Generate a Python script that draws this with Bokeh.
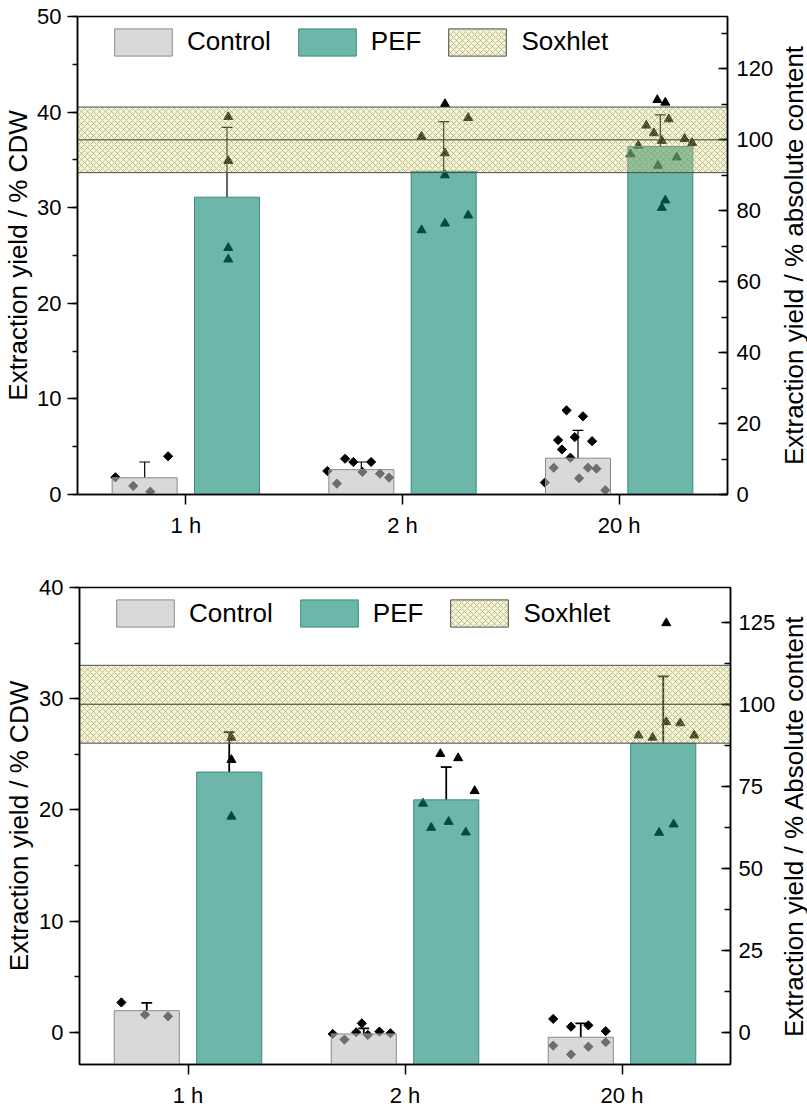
import math
from bokeh.plotting import figure
from bokeh.models import (Range1d, LinearAxis, SingleIntervalTicker, FixedTicker,
                          Legend, LegendItem, Span, Label)
from bokeh.layouts import column, row
from bokeh.embed import file_html
from bokeh.resources import INLINE

FONT = "Liberation Sans"

categories = ["1 h", "2 h", "20 h"]

# ---------------- Panel A (top) ----------------
ctrl_mean_a = [1.75, 2.6, 3.8]
ctrl_sd_a = [1.65, 0.8, 2.9]
pef_mean_a = [31.1, 33.8, 36.4]
pef_sd_a = [7.3, 5.2, 3.3]
soxhlet_mean_a = 37.1
soxhlet_sd_a = 3.43

ctrl_pts_a = [
    [1.8, 0.9, 0.3, 4.0],
    [2.46, 1.14, 3.74, 3.4, 2.36, 3.4, 2.18, 1.77],
    [8.8, 8.18, 5.69, 6.0, 5.58, 4.71, 3.85, 1.25, 2.8, 1.7, 2.8, 2.7, 0.45],
]
ctrl_jit_a = [
    [-0.135, -0.053, 0.026, 0.108],
    [-0.157, -0.113, -0.075, -0.037, 0.005, 0.045, 0.086, 0.128],
    [-0.053, 0.023, -0.092, -0.015, 0.065, -0.074, -0.035, -0.153, -0.112, 0.005, 0.046, 0.085, 0.126],
]
pef_pts_a = [
    [39.5, 34.9, 25.8, 24.6],
    [40.85, 39.4, 37.45, 35.7, 33.4, 29.2, 28.35, 27.65],
    [41.27, 41.0, 39.26, 38.6, 37.8, 37.0, 37.2, 36.77, 36.5, 35.6, 35.27, 34.4, 30.77, 30.0],
]
pef_jit_a = [
    [0.006, 0.006, 0.006, 0.006],
    [0.006, 0.113, -0.102, 0.006, 0.006, 0.113, 0.006, -0.102],
    [-0.014, 0.023, 0.039, -0.065, -0.03, 0.007, 0.112, 0.147, -0.102, -0.138, 0.076, -0.011, 0.023, 0.007],
]

# ---------------- Panel B (bottom) ----------------
ctrl_mean_b = [1.94, -0.15, -0.45]
ctrl_sd_b = [0.7, 0.5, 1.25]
pef_mean_b = [23.4, 20.9, 26.0]
pef_sd_b = [3.6, 2.95, 6.0]
soxhlet_mean_b = 29.5
soxhlet_sd_b = 3.5

ctrl_pts_b = [
    [2.68, 1.58, 1.43],
    [-0.15, -0.66, 0.0, 0.8, -0.24, 0.06, -0.09],
    [1.2, 0.5, 0.62, 0.1, -1.2, -1.99, -1.3, -0.89],
]
ctrl_jit_b = [
    [-0.117, -0.008, 0.098],
    [-0.143, -0.089, -0.035, -0.009, 0.019, 0.072, 0.123],
    [-0.127, -0.045, 0.035, 0.115, -0.127, -0.045, 0.035, 0.115],
]
pef_pts_b = [
    [26.5, 24.5, 19.4],
    [25.04, 24.66, 21.7, 20.57, 18.93, 18.4, 17.98],
    [36.8, 26.7, 26.5, 27.9, 27.8, 26.7, 17.95, 18.7],
]
pef_jit_b = [
    [0.01, 0.01, 0.01],
    [-0.027, 0.055, 0.131, -0.107, 0.011, -0.069, 0.09],
    [0.014, -0.114, -0.049, 0.014, 0.078, 0.143, -0.019, 0.048],
]

BAR_OFF = 0.19
BAR_W = 0.3
CAP = 0.025
MAIN_W = 779
TITLE_W = 28
TICK_FS = "22px"
TITLE_FS = "26px"


def build(ymin, ymax, sox_mean, sox_sd, c_mean, c_sd, p_mean, p_sd,
          c_pts, c_jit, p_pts, p_jit, r_interval, height,
          b_top, b_bottom, b_left, b_right, xlab_standoff, l_title_standoff,
          err_w, leg_x, leg_gap, r_standoff):
    factor = 100.0 / sox_mean
    p = figure(width=MAIN_W, height=height, output_backend="svg", toolbar_location=None,
               x_range=Range1d(0.5, 3.5), y_range=Range1d(ymin, ymax),
               min_border_top=b_top, min_border_bottom=b_bottom,
               min_border_left=b_left, min_border_right=b_right)
    p.extra_y_ranges = {"abs": Range1d(ymin * factor, ymax * factor)}
    p.xgrid.visible = False
    p.ygrid.visible = False
    p.outline_line_color = "black"
    p.outline_line_width = 1.5
    p.outline_line_alpha = 1.0
    p.background_fill_color = "white"
    p.border_fill_color = "white"

    # individual replicate points (drawn below the translucent bars)
    cx, cy, px_, py_ = [], [], [], []
    for i in range(len(categories)):
        for v, j in zip(c_pts[i], c_jit[i]):
            cx.append(i + 1 - BAR_OFF + j)
            cy.append(v)
        for v, j in zip(p_pts[i], p_jit[i]):
            px_.append(i + 1 + BAR_OFF + j)
            py_.append(v)
    p.scatter(cx, cy, marker="square", angle=math.pi / 4, size=6.5,
              fill_color="black", line_color="black")
    p.scatter(px_, py_, marker="triangle", size=9,
              fill_color="black", line_color="black")

    # error bars (upper only)
    xc = [i + 1 - BAR_OFF for i in range(len(categories))]
    xp = [i + 1 + BAR_OFF for i in range(len(categories))]
    ex = xc + xp
    e0 = list(c_mean) + list(p_mean)
    e1 = [m + s for m, s in zip(c_mean, c_sd)] + [m + s for m, s in zip(p_mean, p_sd)]
    p.segment(x0=ex, y0=e0, x1=ex, y1=e1, line_color="black", line_width=err_w)
    p.segment(x0=[x - CAP for x in ex], y0=e1, x1=[x + CAP for x in ex], y1=e1,
              line_color="black", line_width=err_w)

    # bars
    r_ctrl = p.vbar(x=xc, width=BAR_W, bottom=ymin, top=c_mean,
                    fill_color="#bebebe", fill_alpha=0.58,
                    line_color="#8a8a8a", line_width=1)
    r_pef = p.vbar(x=xp, width=BAR_W, bottom=ymin, top=p_mean,
                   fill_color="#00806c", fill_alpha=0.576,
                   line_color="#3f8a7e", line_width=1)

    # Soxhlet band
    r_sox = p.quad(left=p.x_range.start, right=p.x_range.end,
                   bottom=sox_mean - sox_sd, top=sox_mean + sox_sd,
                   fill_color="#e0e070", fill_alpha=0.3,
                   hatch_pattern="diagonal_cross", hatch_color="#8c8c66",
                   hatch_scale=6, hatch_weight=0.6, hatch_alpha=0.9,
                   line_color="#4a4a4a", line_width=1)
    p.add_layout(Span(location=sox_mean, dimension="width",
                      line_color="#3a3a3a", line_width=1))

    # axes
    ya = p.yaxis[0]
    ya.ticker = SingleIntervalTicker(interval=10, num_minor_ticks=2)
    ya.major_tick_out = 10
    ya.major_tick_in = 0
    ya.minor_tick_out = 5
    ya.minor_tick_in = 0
    ya.major_label_standoff = 6
    ya.axis_label = "Extraction yield / % CDW"
    ya.axis_label_standoff = l_title_standoff

    ra = LinearAxis(y_range_name="abs",
                    ticker=SingleIntervalTicker(interval=r_interval, num_minor_ticks=2))
    ra.major_tick_in = 9
    ra.major_tick_out = 0
    ra.minor_tick_in = 6
    ra.minor_tick_out = 0
    ra.major_label_standoff = r_standoff
    p.add_layout(ra, "right")

    xa = p.xaxis[0]
    xa.ticker = FixedTicker(ticks=[1, 2, 3], minor_ticks=[])
    xa.major_label_overrides = {i + 1: c for i, c in enumerate(categories)}
    xa.major_tick_out = 10
    xa.major_tick_in = 0
    xa.major_label_standoff = xlab_standoff

    for ax in (ya, ra, xa):
        ax.axis_line_color = "black"
        ax.axis_line_width = 1.5
        ax.major_tick_line_color = "black"
        ax.major_tick_line_width = 1.5
        ax.minor_tick_line_color = "black"
        ax.minor_tick_line_width = 1.5
        ax.major_label_text_font = FONT
        ax.major_label_text_font_size = TICK_FS
        ax.major_label_text_color = "black"
        ax.axis_label_text_font = FONT
        ax.axis_label_text_font_size = TITLE_FS
        ax.axis_label_text_font_style = "normal"
        ax.axis_label_text_color = "black"

    frame_h = height - b_top - b_bottom
    gh, gw = 34, 72
    legend = Legend(items=[LegendItem(label="Control", renderers=[r_ctrl]),
                           LegendItem(label="PEF", renderers=[r_pef]),
                           LegendItem(label="Soxhlet", renderers=[r_sox])],
                    orientation="horizontal", glyph_width=gw, glyph_height=gh,
                    label_standoff=8, spacing=20, padding=0, margin=0,
                    border_line_alpha=0, background_fill_alpha=0,
                    label_text_font=FONT, label_text_font_size=TITLE_FS,
                    label_text_color="black", label_height=gh)
    legend.location = (leg_x, frame_h - leg_gap - gh)
    p.add_layout(legend)
    return p


def side_title(text, height, b_top, b_bottom, ymin, ymax):
    t = figure(width=TITLE_W, height=height, output_backend="svg", toolbar_location=None,
               x_range=Range1d(0, 1), y_range=Range1d(ymin, ymax),
               x_axis_location=None, y_axis_location=None,
               min_border_top=b_top, min_border_bottom=b_bottom,
               min_border_left=0, min_border_right=0)
    t.grid.visible = False
    t.outline_line_color = None
    t.background_fill_color = "white"
    t.border_fill_color = "white"
    t.add_layout(Label(x=0.5, y=(ymin + ymax) / 2.0, text=text, angle=math.pi / 2,
                       text_align="center", text_baseline="middle",
                       text_font=FONT, text_font_size=TITLE_FS, text_color="black"))
    return t


H1, T1, B1 = 540, 16, 43
H2, T2, B2 = 570, 47, 43

p1 = build(0, 50, soxhlet_mean_a, soxhlet_sd_a, ctrl_mean_a, ctrl_sd_a, pef_mean_a, pef_sd_a,
           ctrl_pts_a, ctrl_jit_a, pef_pts_a, pef_jit_a, 20,
           H1, T1, B1, 77, 52, 8, 1, 1.2, 30, 11.5, 9)
t1 = side_title("Extraction yield / % absolute content", H1, T1, B1, 0, 50)

p2 = build(-2.9, 40, soxhlet_mean_b, soxhlet_sd_b, ctrl_mean_b, ctrl_sd_b, pef_mean_b, pef_sd_b,
           ctrl_pts_b, ctrl_jit_b, pef_pts_b, pef_jit_b, 25,
           H2, T2, B2, 79, 49, 8, 2, 1.8, 30, 12, 8)
t2 = side_title("Extraction yield / % Absolute content", H2, T2, B2, -2.9, 40)

layout = column(row(p1, t1), row(p2, t2))
open("out.html", "w").write(file_html(layout, INLINE))
